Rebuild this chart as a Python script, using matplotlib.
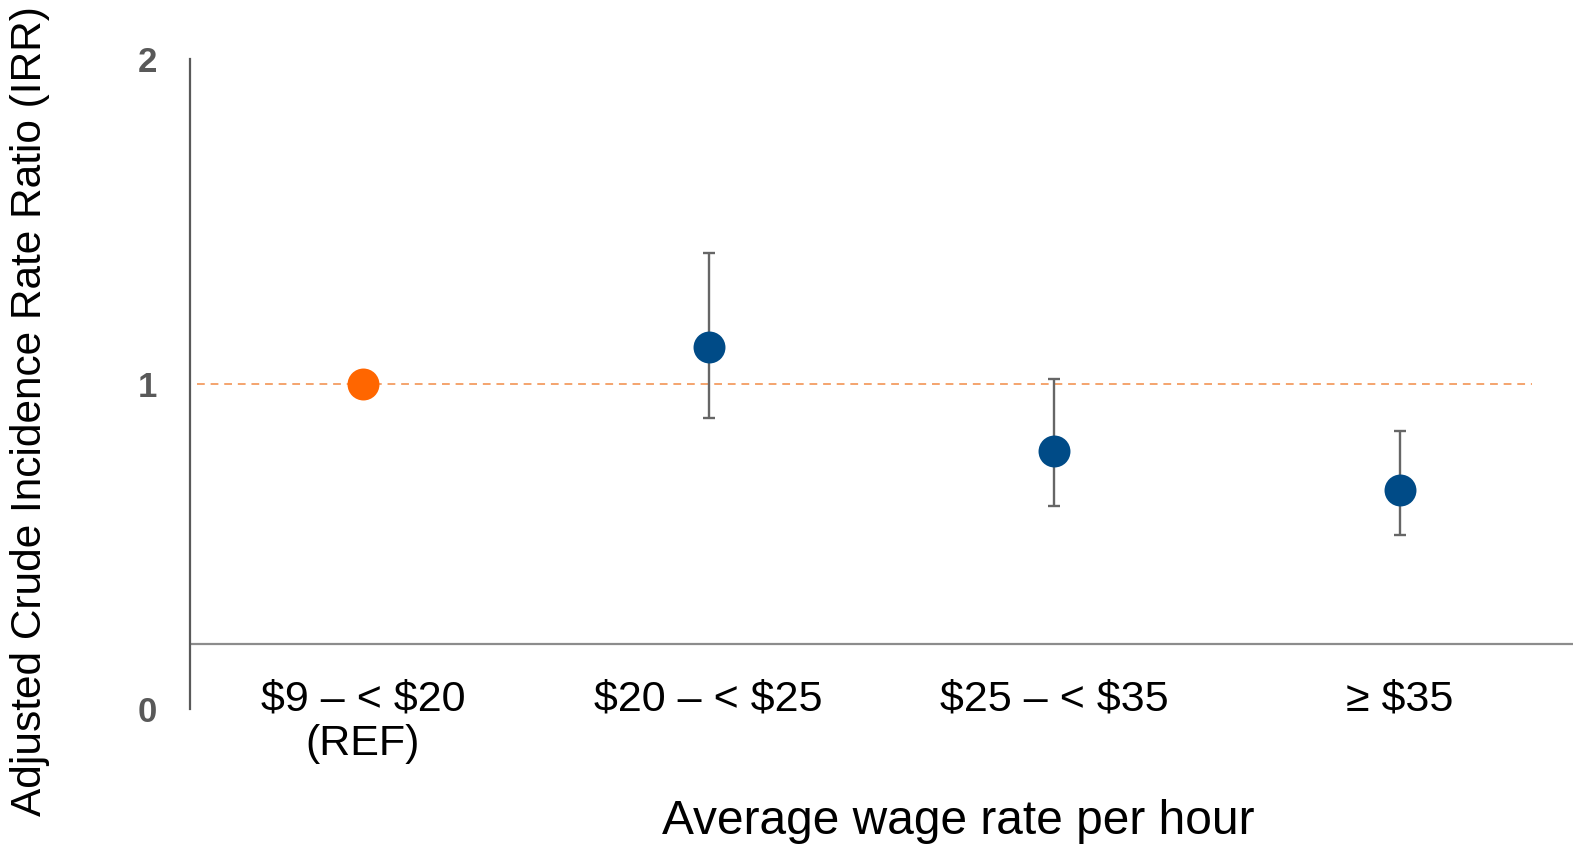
import matplotlib
matplotlib.use("Agg")
import matplotlib.pyplot as plt

plt.rcParams['font.family'] = ['Liberation Sans', 'DejaVu Sans']

# Wage bands and incidence rate ratios with 95% CI
categories = ["\\$9 – < \\$20\n(REF)", "\\$20 – < \\$25", "\\$25 – < \\$35", "≥ \\$35"]
irr = [1.0, 1.114, 0.794, 0.675]
ci_low = [None, 0.895, 0.626, 0.536]
ci_high = [None, 1.404, 1.014, 0.854]
ref_value = 1.0
axis_cross = 0.2
y_ticks = [0, 1, 2]

fig = plt.figure(figsize=(15.73, 8.48), dpi=100)
ax = fig.add_axes([190 / 1573, 1 - 709 / 848, 1 - 190 / 1573, 650 / 848])

x = list(range(1, len(categories) + 1))

# reference line at IRR = 1
ax.plot([0.52, 4.38], [ref_value, ref_value], ls=(0, (4, 3)), color="#F4A46E",
        lw=1.4, zorder=1)

# horizontal axis line
ax.axhline(axis_cross, color="#8C8C8C", lw=1.6, zorder=1)

# reference category
ax.plot(x[0], irr[0], "o", color="#FF6600", ms=23, mec="none", zorder=3)

# comparison categories with confidence intervals
xs = x[1:]
ys = irr[1:]
lo = [y - l for y, l in zip(ys, ci_low[1:])]
hi = [h - y for y, h in zip(ys, ci_high[1:])]
ax.errorbar(xs, ys, yerr=[lo, hi], fmt="none", ecolor="#666666", elinewidth=1.7,
            capsize=4.5, capthick=1.7, zorder=2)
ax.plot(xs, ys, "o", color="#004B87", ms=23, mec="none", zorder=3)

ax.set_xlim(0.5, 4.5)
ax.set_ylim(0, 2)

ax.set_xticks(x)
ax.set_xticklabels(categories, fontsize=31, color="black", linespacing=1.15)
ax.tick_params(axis="x", length=0, pad=-21)

ax.set_yticks(y_ticks)
ax.set_yticklabels([str(t) for t in y_ticks], fontsize=25, fontweight="bold",
                   color="#595959")
ax.tick_params(axis="y", length=0, pad=24)

for s in ["top", "right", "bottom"]:
    ax.spines[s].set_visible(False)
ax.spines["left"].set_color("#595959")
ax.spines["left"].set_linewidth(1.6)

fig.text(30 / 1573, 1 - 411 / 848, "Adjusted Crude Incidence Rate Ratio (IRR)",
         rotation=90, ha="center", va="center", fontsize=30.5, color="black")
fig.text(958 / 1573, 1 - 822 / 848, "Average wage rate per hour",
         ha="center", va="center", fontsize=34.5, color="black")

fig.savefig("out.png", dpi=100)
